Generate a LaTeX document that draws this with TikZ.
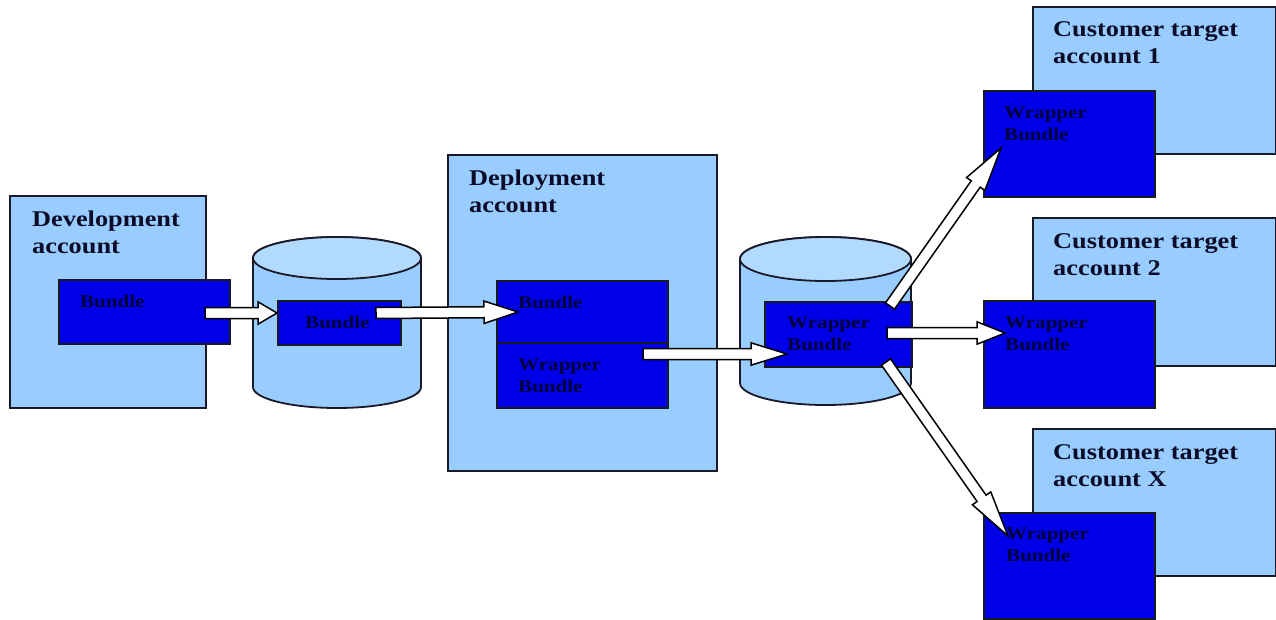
\documentclass[tikz,border=0pt]{standalone}
\usepackage{fontspec}
\setmainfont{Liberation Serif}
\newfontfamily\diagfont[FakeStretch=1.17]{Liberation Serif}
\usetikzlibrary{calc}

\definecolor{acctblue}{RGB}{153,204,255}
\definecolor{cyltopblue}{RGB}{178,218,255}
\definecolor{bundleblue}{RGB}{0,0,232}
\definecolor{edge}{RGB}{25,25,40}
\definecolor{titleink}{RGB}{12,12,40}
\definecolor{bundleink}{RGB}{0,0,60}

\tikzset{
  acct/.style={draw=edge, line width=1.8pt, fill=acctblue, anchor=north west, inner sep=0pt},
  bundlebox/.style={draw=edge, line width=1.8pt, fill=bundleblue, anchor=north west, inner sep=0pt},
  % multi-line labels are placed by the baseline of their last line
  title/.style={anchor=base west, inner sep=0pt, align=left, text=titleink,
    font=\diagfont\bfseries\fontsize{22.5}{26.5}\selectfont},
  blabel/.style={anchor=base west, inner sep=0pt, align=left, text=bundleink,
    font=\diagfont\bfseries\fontsize{18}{22}\selectfont},
  barrow/.style={draw=black, line width=1.5pt, fill=white, line join=miter},
  cylbody/.style={draw=edge, line width=1.8pt, fill=acctblue},
  cyltop/.style={draw=edge, line width=1.8pt, fill=cyltopblue},
}

% white block arrow from #2 to the tip #3, head length #1
\newcommand\blockarrow[3][19pt]{%
  \draw[barrow]
    ($(#2)!5.5pt!90:(#3)$) --
    ($(#3)!#1!(#2)!5.5pt!90:(#3)$) --
    ($(#3)!#1!(#2)!11.2pt!90:(#3)$) --
    (#3) --
    ($(#3)!#1!(#2)!11.2pt!-90:(#3)$) --
    ($(#3)!#1!(#2)!5.5pt!-90:(#3)$) --
    ($(#2)!5.5pt!-90:(#3)$) -- cycle;}

\begin{document}
\begin{tikzpicture}[x=1pt, y=-1pt]
  \fill[white] (0,0) rectangle (1276,619);
  \useasboundingbox (0,0) rectangle (1276,619);

  % development account
  \node[acct, minimum width=196pt, minimum height=212pt] (dev) at (9,195) {};
  \node[bundlebox, minimum width=171pt, minimum height=64pt] (devb) at (58,279) {};

  % first store
  \filldraw[cylbody] (253,258) -- (253,387)
    arc[start angle=180, end angle=0, x radius=84, y radius=21]
    -- (421,258)
    arc[start angle=0, end angle=-180, x radius=84, y radius=21] -- cycle;
  \filldraw[cyltop] (337,258) ellipse[x radius=84, y radius=21];
  \coordinate (cyl1) at (337,322);
  \node[bundlebox, minimum width=123pt, minimum height=44pt] (cyl1b) at (277,300) {};

  % deployment account
  \node[acct, minimum width=269pt, minimum height=316pt] (dep) at (447,154) {};
  \node[bundlebox, minimum width=171pt, minimum height=62pt] (depb) at (496,280) {};
  \node[bundlebox, minimum width=171pt, minimum height=65pt] (depw) at (496,342) {};

  % second store
  \filldraw[cylbody] (740,259) -- (740,383)
    arc[start angle=180, end angle=0, x radius=85.5, y radius=22]
    -- (911,259)
    arc[start angle=0, end angle=-180, x radius=85.5, y radius=22] -- cycle;
  \filldraw[cyltop] (825.5,259) ellipse[x radius=85.5, y radius=22];
  \coordinate (cyl2) at (825.5,320);
  \node[bundlebox, minimum width=147pt, minimum height=65pt] (cyl2w) at (764,301) {};

  % customer target accounts
  \node[acct, minimum width=243pt, minimum height=147pt] (c1) at (1032,6) {};
  \node[bundlebox, minimum width=171pt, minimum height=106pt] (c1w) at (983,90) {};
  \node[acct, minimum width=243pt, minimum height=148pt] (c2) at (1032,217) {};
  \node[bundlebox, minimum width=171pt, minimum height=107pt] (c2w) at (983,300) {};
  \node[acct, minimum width=243pt, minimum height=147pt] (cx) at (1032,428) {};
  \node[bundlebox, minimum width=171pt, minimum height=106pt] (cxw) at (983,512) {};

  % labels
  \node[title] (devt) at (32,253) {Development\\account};
  \node[blabel] (devbt) at (80,307) {Bundle};
  \node[blabel] (cyl1bt) at (305,328) {Bundle};
  \node[title] (dept) at (469,212) {Deployment\\account};
  \node[blabel] (depbt) at (518,308) {Bundle};
  \node[blabel] (depwt) at (518,392) {Wrapper\\Bundle};
  \node[blabel] (cyl2wt) at (787,350) {Wrapper\\Bundle};
  \node[title] (c1t) at (1053,63) {Customer target\\account 1};
  \node[blabel] (c1wt) at (1004,140) {Wrapper\\Bundle};
  \node[title] (c2t) at (1053,275) {Customer target\\account 2};
  \node[blabel] (c2wt) at (1005,350) {Wrapper\\Bundle};
  \node[title] (cxt) at (1053,486) {Customer target\\account X};
  \node[blabel] (cxwt) at (1006,561) {Wrapper\\Bundle};

  % arrow ends
  \coordinate (a1s) at (205,313);  \coordinate (a1e) at (277,313);
  \coordinate (a2s) at (376,313);  \coordinate (a2e) at (518,312);
  \coordinate (a3s) at (643,354);  \coordinate (a3e) at (787,354);
  \coordinate (a4s) at (887,333);  \coordinate (a4e) at (1005,333);
  \coordinate (a5s) at (890,306);  \coordinate (a5e) at (1001,148);
  \coordinate (a6s) at (886,362);  \coordinate (a6e) at (1008,536);

  \blockarrow[19pt]{a1s}{a1e}
  \blockarrow[34pt]{a2s}{a2e}
  \blockarrow[36pt]{a3s}{a3e}
  \blockarrow[28pt]{a4s}{a4e}
  \blockarrow[44pt]{a5s}{a5e}
  \blockarrow[46pt]{a6s}{a6e}
\end{tikzpicture}
\end{document}
